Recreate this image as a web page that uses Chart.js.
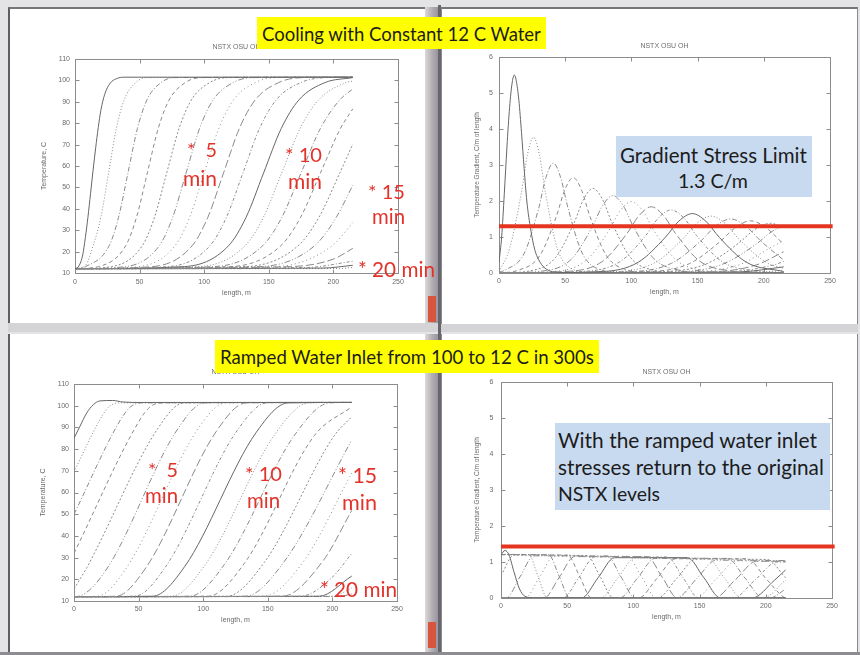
<!DOCTYPE html>
<html>
<head>
<meta charset="utf-8">
<script src="https://cdn.jsdelivr.net/npm/chart.js@4.4.1/dist/chart.umd.min.js"></script>
<style>
  html, body { margin: 0; padding: 0; }
  body { width: 860px; height: 655px; position: relative; overflow: hidden; background: #e4e3e6; font-family: Lato, "Open Sans", sans-serif; }
  .win { position: absolute; background: #fff; box-sizing: border-box; }
  .bar { position: absolute; }
  canvas { position: absolute; }
  .box { position: absolute; }
  .t { position: absolute; white-space: pre; line-height: 1; transform: translateY(-50%); }
  .yellow { background: #ffff00; }
  .blue { background: #c8daf0; }
  .dark { color: #1c1c1c; }
  .red { color: #e3322a; font-size: 19px; }
</style>
</head>
<body>
  <!-- application windows -->
  <div class="win" style="left:8px;top:7px;width:417px;height:316px;border-top:2px solid #75757a;border-left:2px solid #5e5e62;"></div>
  <div class="bar" style="left:425px;top:7px;width:13px;height:319px;background:linear-gradient(90deg,#dcd8db,#b2adb1 55%,#9893a0);"></div>
  <div class="bar" style="left:428px;top:296px;width:8px;height:26px;background:#d6553c;"></div>
  <div class="bar" style="left:438px;top:5px;width:3px;height:330px;background:#66666c;"></div>
  <div class="bar" style="left:8px;top:323px;width:430px;height:9px;background:#d4d3d6;"></div>

  <div class="win" style="left:441px;top:7px;width:417px;height:318px;border-top:2px solid #75757a;border-left:1px solid #8a8a8e;border-right:1px solid #8a8a8e;"></div>
  <div class="bar" style="left:441px;top:324px;width:417px;height:8px;background:#d4d3d6;"></div>

  <div class="win" style="left:8px;top:334px;width:417px;height:318px;border-left:2px solid #5e5e62;"></div>
  <div class="bar" style="left:425px;top:334px;width:13px;height:318px;background:linear-gradient(90deg,#dcd8db,#b2adb1 55%,#9893a0);"></div>
  <div class="bar" style="left:428px;top:622px;width:8px;height:26px;background:#d6553c;"></div>
  <div class="bar" style="left:438px;top:334px;width:3px;height:321px;background:#66666c;"></div>

  <div class="win" style="left:441px;top:334px;width:417px;height:318px;border-left:1px solid #8a8a8e;border-right:1px solid #8a8a8e;"></div>
  <div class="bar" style="left:0;top:652px;width:860px;height:3px;background:#8d8c90;"></div>

  <canvas id="chartTL" width="400" height="280" style="left:20px;top:30px"></canvas>
  <canvas id="chartTR" width="400" height="280" style="left:450px;top:30px"></canvas>
  <canvas id="chartBL" width="400" height="280" style="left:20px;top:355px"></canvas>
  <canvas id="chartBR" width="400" height="280" style="left:450px;top:355px"></canvas>

  <!-- headings -->
  <div class="box yellow" style="left:257px;top:17px;width:289px;height:32px"></div>
  <span class="t dark" data-w="279" style="left:262px;top:34px;font-size:18px">Cooling with Constant 12 C Water</span>
  <div class="box yellow" style="left:215px;top:340px;width:384px;height:33px"></div>
  <span class="t dark" data-w="374" style="left:220px;top:357px;font-size:18px">Ramped Water Inlet from 100 to 12 C in 300s</span>

  <!-- notes -->
  <div class="box blue" style="left:616px;top:136px;width:196px;height:61px"></div>
  <span class="t dark" data-w="187" style="left:620px;top:155px;font-size:19px">Gradient Stress Limit</span>
  <span class="t dark" data-w="70" style="left:678px;top:181px;font-size:19px">1.3 C/m</span>

  <div class="box blue" style="left:555px;top:423px;width:275px;height:87px"></div>
  <span class="t dark" data-w="259" style="left:558px;top:440px;font-size:19px">With the ramped water inlet</span>
  <span class="t dark" data-w="266" style="left:558px;top:467px;font-size:19px">stresses return to the original</span>
  <span class="t dark" data-w="102" style="left:558px;top:494px;font-size:19px">NSTX levels</span>

  <!-- elapsed-time markers, constant inlet -->
  <span class="t red" data-w="30" style="left:187px;top:150px">*  5</span>
  <span class="t red" data-w="34" style="left:183px;top:177px">min</span>
  <span class="t red" data-w="37" style="left:285px;top:154px">* 10</span>
  <span class="t red" data-w="34" style="left:288px;top:180px">min</span>
  <span class="t red" data-w="37" style="left:368px;top:191px">* 15</span>
  <span class="t red" data-w="33" style="left:372px;top:216px">min</span>
  <span class="t red" data-w="77" style="left:358px;top:269px">* 20 min</span>

  <!-- elapsed-time markers, ramped inlet -->
  <span class="t red" data-w="30" style="left:148px;top:470px">*  5</span>
  <span class="t red" data-w="33" style="left:145px;top:495px">min</span>
  <span class="t red" data-w="37" style="left:245px;top:473px">* 10</span>
  <span class="t red" data-w="33" style="left:247px;top:500px">min</span>
  <span class="t red" data-w="39" style="left:338px;top:476px">* 15</span>
  <span class="t red" data-w="35" style="left:342px;top:503px">min</span>
  <span class="t red" data-w="77" style="left:320px;top:589px">* 20 min</span>

<script>
// ---- axis ticks ----
const lengthTicks = [0, 50, 100, 150, 200, 250];
const tempTicks = [10, 20, 30, 40, 50, 60, 70, 80, 90, 100, 110];
const gradTicks = [0, 1, 2, 3, 4, 5, 6];

// ---- stress limit (C/m) ----
const stressLimit = 1.3;
const stressLimitRamped = 1.43;
const limitSpan = [0, 252];

// ---- temperature vs length, constant 12 C inlet, one profile per minute [length m, T C] ----
const tempConst01 = [[0,12],[3,13.3],[6,18.5],[8,26.5],[10,36],[12,47],[14,58],[16,68.5],[18,78],[20,86],[23,93.5],[27,98.5],[32,100.8],[38,101.5],[215,101.5]];
const tempConst02 = [[0,12],[8,13.5],[14,22.7],[20,36],[26,56.8],[32,77.5],[38,90.8],[47,99],[56,101.3],[215,101.5]];
const tempConst03 = [[0,12],[8.2,13],[26.4,22.7],[33.7,36],[41,56.8],[48.3,77.5],[55.6,90.8],[66.6,99],[77.5,101.3],[215,101.5]];
const tempConst04 = [[0,12],[18.2,13],[39.2,22.7],[47.6,36],[56,56.8],[64.4,77.5],[72.8,90.8],[85.4,99],[98,101.3],[215,101.5]];
const tempConst05 = [[0,12],[28.3,13],[52,22.7],[61.5,36],[71,56.8],[80.5,77.5],[90,90.8],[104.3,99],[118.5,101.3],[215,101.5]];
const tempConst06 = [[0,12],[39.2,13],[65.2,22.7],[75.6,36],[86,56.8],[96.4,77.5],[106.8,90.8],[122.4,99],[138,101.3],[215,101.5]];
const tempConst07 = [[0,12],[49.2,13],[77.4,22.7],[88.7,36],[100,56.8],[111.3,77.5],[122.6,90.8],[139.6,99],[156.5,101.3],[215,101.5]];
const tempConst08 = [[0,12],[60.1,13],[90.6,22.7],[102.8,36],[115,56.8],[127.2,77.5],[139.4,90.8],[157.7,99],[176,101.3],[215,101.5]];
const tempConst09 = [[0,12],[72.4,13],[104.4,22.7],[117.2,36],[130,56.8],[142.8,77.5],[155.6,90.8],[174.8,99],[194,101.3],[215,101.5]];
const tempConst10 = [[0,12],[84.8,13],[118.8,22.7],[132.4,36],[146,56.8],[159.6,77.5],[173.2,90.8],[193.6,99],[215,101.3]];
const tempConst11 = [[0,12],[96.1,13],[131.6,22.7],[145.8,36],[160,56.8],[174.2,77.5],[188.4,90.8],[209.7,99],[215,99.7]];
const tempConst12 = [[0,12],[107.9,13],[145.2,22.7],[160.1,36],[175,56.8],[189.9,77.5],[204.8,90.8],[215,96]];
const tempConst13 = [[0,12],[120.7,13],[159.2,22.7],[174.6,36],[190,56.8],[205.4,77.5],[215,86.7]];
const tempConst14 = [[0,12],[132.1,13],[172.6,22.7],[188.8,36],[205,56.8],[215,70.2]];
const tempConst15 = [[0,12],[143.4,13],[185.4,22.7],[202.2,36],[215,51]];
const tempConst16 = [[0,12],[155.3,13],[199,22.7],[215,33.5]];
const tempConst17 = [[0,12],[167,13],[200,16.5],[215,21.5]];
const tempConst18 = [[0,12],[180,12.6],[215,15.5]];
const tempConst19 = [[0,12],[192,12.3],[215,13.6]];
const tempConst20 = [[0,12],[205,12.1],[215,12.6]];

// ---- temperature gradient vs length, constant inlet [length m, C/m] ----
const gradConst01 = [[0,0.3],[2,1.0],[4,2.2],[6,3.5],[8,4.6],[10,5.3],[11.6,5.5],[13,5.35],[15,4.8],[17,3.9],[19,2.9],[21,2.0],[24,1.2],[27,0.65],[31,0.3],[36,0.1],[45,0.02],[60,0],[215,0]];
const gradConst02 = [[0,0.03],[8,0.68],[17,2.25],[21.5,3.29],[26,3.77],[30.5,3.29],[35,2.25],[44,0.68],[56,0.1],[70,0],[215,0]];
const gradConst03 = [[0,0.02],[4.5,0.08],[19.1,0.55],[30.1,1.82],[35.5,2.66],[41,3.05],[46.5,2.66],[52,1.82],[62.9,0.55],[77.5,0.08],[95,0],[215,0]];
const gradConst04 = [[0,0],[14,0.07],[30.8,0.48],[43.4,1.58],[49.7,2.31],[56,2.65],[62.3,2.31],[68.6,1.58],[81.2,0.48],[98,0.07],[115,0],[215,0]];
const gradConst05 = [[0,0],[23.5,0.06],[42.5,0.42],[56.8,1.4],[63.9,2.05],[71,2.35],[78.1,2.05],[85.3,1.4],[99.5,0.42],[118.5,0.06],[135,0],[215,0]];
const gradConst06 = [[0,0],[34,0.06],[54.8,0.39],[70.4,1.28],[78.2,1.87],[86,2.15],[93.8,1.87],[101.6,1.28],[117.2,0.39],[138,0.06],[155,0],[215,0]];
const gradConst07 = [[0,0],[43.5,0.05],[66.1,0.36],[83,1.18],[91.5,1.73],[100,1.98],[108.5,1.73],[117,1.18],[133.9,0.36],[156.5,0.05],[175,0],[215,0]];
const gradConst08 = [[0,0],[54,0.05],[78.4,0.33],[96.7,1.1],[105.9,1.6],[115,1.84],[124.2,1.6],[133.3,1.1],[151.6,0.33],[176,0.05],[195,0],[215,0]];
const gradConst09 = [[0,0],[66,0.05],[91.6,0.32],[110.8,1.04],[120.4,1.53],[130,1.75],[139.6,1.53],[149.2,1.04],[168.4,0.32],[194,0.05],[215,0.01]];
const gradConst10 = [[0,0],[78,0.04],[105.2,0.3],[125.6,0.99],[135.8,1.44],[146,1.65],[156.2,1.44],[166.4,0.99],[186.8,0.3],[215,0.04]];
const gradConst11 = [[0,0],[89,0.04],[117.4,0.28],[138.7,0.94],[149.4,1.38],[160,1.58],[170.7,1.38],[181.3,0.94],[202.6,0.28],[215,0.13]];
const gradConst12 = [[0,0],[100.5,0.04],[130.3,0.27],[152.7,0.9],[163.8,1.31],[175,1.5],[186.2,1.31],[197.4,0.9],[215,0.36]];
const gradConst13 = [[0,0],[113,0.04],[143.8,0.26],[166.9,0.87],[178.5,1.26],[190,1.45],[201.6,1.26],[215,0.8]];
const gradConst14 = [[0,0],[124,0.04],[156.4,0.25],[180.7,0.82],[192.9,1.2],[205,1.38],[215,1.26]];
const gradConst15 = [[0,0],[135,0.035],[168.6,0.24],[193.8,0.79],[206.4,1.16],[215,1.31]];
const gradConst16 = [[0,0],[146.5,0.034],[181.5,0.23],[207.8,0.76],[215,0.9]];
const gradConst17 = [[0,0],[158,0.03],[194,0.22],[215,0.59]];
const gradConst18 = [[0,0],[170,0.03],[207.2,0.22],[215,0.32]];
const gradConst19 = [[0,0],[181.5,0.03],[215,0.17]];
const gradConst20 = [[0,0],[192,0.02],[215,0.07]];

// ---- temperature vs length, inlet ramped 100 -> 12 C over 300 s ----
const tempRamp01 = [[0,85],[4.6,90.5],[9.8,96.6],[15,100.5],[20,102.2],[30,102.4],[38,101.7],[50,101.5],[215,101.5]];
const tempRamp02 = [[0,69.5],[20,93.5],[27,99.5],[35,101.3],[215,101.5]];
const tempRamp03 = [[0,50],[36,93.5],[44,99.6],[52,101.3],[215,101.5]];
const tempRamp04 = [[0,32],[51,93.5],[59,99.5],[68,101.3],[215,101.5]];
const tempRamp05 = [[0,15.5],[10,25.5],[65,89.6],[85,101.3],[215,101.5]];
const tempRamp06 = [[0,12],[3.8,12.2],[24.8,24.3],[80.2,89.2],[101.2,101.3],[215,101.5]];
const tempRamp07 = [[0,12],[18.1,12.2],[40.1,24.8],[95.3,88.7],[117.3,101.3],[215,101.5]];
const tempRamp08 = [[0,12],[32.5,12.2],[55.5,25.2],[110.3,88.3],[133.3,101.3],[215,101.5]];
const tempRamp09 = [[0,12],[46.8,12.2],[70.8,25.7],[125.4,87.8],[149.4,101.3],[215,101.5]];
const tempRamp10 = [[0,12],[60.8,12.2],[85.8,26],[140.8,87.5],[165.8,101.3],[215,101.5]];
const tempRamp11 = [[0,12],[75.2,12.2],[101.2,26.4],[155.8,87.1],[181.8,101.3],[215,101.5]];
const tempRamp12 = [[0,12],[89.5,12.2],[116.5,26.9],[170.9,86.6],[197.9,101.3],[215,101.5]];
const tempRamp13 = [[0,12],[103.8,12.2],[131.8,27.3],[186,86.2],[215,99.5]];
const tempRamp14 = [[0,12],[118.2,12.2],[147.2,27.7],[201,85.8],[215,95]];
const tempRamp15 = [[0,12],[132.5,12.2],[162.5,28],[215,84.2]];
const tempRamp16 = [[0,12],[146.8,12.2],[177.8,28.4],[215,69]];
const tempRamp17 = [[0,12],[161.1,12.2],[193.1,28.8],[215,51.8]];
const tempRamp18 = [[0,12],[175.4,12.2],[200,21],[215,32]];
const tempRamp19 = [[0,12],[189.7,12.2],[215,21.5]];
const tempRamp20 = [[0,12],[200,12.2],[215,16]];
const tempRamp21 = [[0,12],[205,12.1],[215,13.3]];

// ---- temperature gradient vs length, ramped inlet ----
const gradRamp01 = [[0,1.2],[3,1.32],[6,1.2],[10,0.7],[14,0.25],[18,0.05],[25,0],[215,0]];
const gradRamp02 = [[0,1.21],[21,1.2],[28,0.6],[35,0],[215,0]];
const gradRamp03 = [[0,1.21],[36,1.2],[44,0.6],[52,0],[215,0]];
const gradRamp04 = [[0,1.2],[50.4,1.19],[59.4,0.6],[68.4,0],[215,0]];
const gradRamp05 = [[0,0.62],[9.7,1.19],[64.9,1.18],[74.9,0.59],[84.9,0],[215,0]];
const gradRamp06 = [[0,0],[3.8,0],[14.3,0.585],[24.8,1.17],[80.2,1.17],[90.7,0.585],[101.2,0],[215,0]];
const gradRamp07 = [[0,0],[18.1,0],[29.1,0.58],[40.1,1.16],[95.3,1.16],[106.3,0.58],[117.3,0],[215,0]];
const gradRamp08 = [[0,0],[32.5,0],[44,0.575],[55.5,1.15],[110.3,1.15],[121.8,0.575],[133.3,0],[215,0]];
const gradRamp09 = [[0,0],[46.8,0],[58.8,0.57],[70.8,1.14],[125.4,1.14],[137.4,0.57],[149.4,0],[215,0]];
const gradRamp10 = [[0,0],[60.8,0],[73.3,0.56],[85.8,1.12],[140.8,1.12],[153.3,0.56],[165.8,0],[215,0]];
const gradRamp11 = [[0,0],[75.2,0],[88.2,0.555],[101.2,1.11],[155.8,1.11],[168.8,0.555],[181.8,0],[215,0]];
const gradRamp12 = [[0,0],[89.5,0],[103,0.55],[116.5,1.1],[170.9,1.1],[184.4,0.55],[197.9,0],[215,0]];
const gradRamp13 = [[0,0],[103.8,0],[117.8,0.545],[131.8,1.09],[186,1.09],[200,0.545],[214,0.01],[215,0]];
const gradRamp14 = [[0,0],[118.2,0],[132.7,0.54],[147.2,1.08],[201,1.07],[215,0.56]];
const gradRamp15 = [[0,0],[132.5,0],[147.5,0.525],[162.5,1.05],[215,1.04]];
const gradRamp16 = [[0,0],[146.8,0],[162.3,0.515],[177.8,1.03],[215,1.03]];
const gradRamp17 = [[0,0],[161.1,0],[177.1,0.51],[193.1,1.02],[215,1.02]];
const gradRamp18 = [[0,0],[175.4,0],[191.9,0.5],[208.4,1.0],[215,1.0]];
const gradRamp19 = [[0,0],[189.7,0],[206.7,0.5],[215,0.78]];
const gradRamp20 = [[0,0],[198,0],[215,0.5]];
const gradRamp21 = [[0,0],[203,0],[215,0.25]];

const plotTitle = 'NSTX OSU OH';

// ---- curve groups built from the named profiles ----
const tempConstCurves = [tempConst01,tempConst02,tempConst03,tempConst04,tempConst05,tempConst06,tempConst07,tempConst08,tempConst09,tempConst10,
  tempConst11,tempConst12,tempConst13,tempConst14,tempConst15,tempConst16,tempConst17,tempConst18,tempConst19,tempConst20];
const gradConstCurves = [gradConst01,gradConst02,gradConst03,gradConst04,gradConst05,gradConst06,gradConst07,gradConst08,gradConst09,gradConst10,
  gradConst11,gradConst12,gradConst13,gradConst14,gradConst15,gradConst16,gradConst17,gradConst18,gradConst19,gradConst20];
const tempRampCurves = [tempRamp01,tempRamp02,tempRamp03,tempRamp04,tempRamp05,tempRamp06,tempRamp07,tempRamp08,tempRamp09,tempRamp10,
  tempRamp11,tempRamp12,tempRamp13,tempRamp14,tempRamp15,tempRamp16,tempRamp17,tempRamp18,tempRamp19,tempRamp20,tempRamp21];
const gradRampCurves = [gradRamp01,gradRamp02,gradRamp03,gradRamp04,gradRamp05,gradRamp06,gradRamp07,gradRamp08,gradRamp09,gradRamp10,
  gradRamp11,gradRamp12,gradRamp13,gradRamp14,gradRamp15,gradRamp16,gradRamp17,gradRamp18,gradRamp19,gradRamp20,gradRamp21];

// gnuplot-style line types, cycling every nine curves
const dashCycle = [[], [1,2], [5,2,1,2], [4,3], [2,2], [6,2,1,2,1,2], [1,3], [8,3], [3,2,1,2]];

function curveSets(curves) {
  return curves.map((pts, i) => {
    const dash = dashCycle[i % dashCycle.length];
    return {
      data: pts,
      borderColor: dash.length ? '#8a8a8a' : '#666666',
      borderWidth: 1,
      borderDash: dash,
      pointRadius: 0,
      fill: false,
      cubicInterpolationMode: 'monotone'
    };
  });
}

// boxed frame with inward tick marks on all four sides, plus the small plot title
const plotFrame = {
  id: 'plotFrame',
  beforeDatasetsDraw(chart, args, opts) {
    const { ctx, chartArea: a } = chart;
    const x = chart.scales.x, y = chart.scales.y;
    const L = Math.round(a.left) + 0.5, R = Math.round(a.right) + 0.5;
    const T = Math.round(a.top) + 0.5, B = Math.round(a.bottom) + 0.5;
    ctx.save();
    ctx.strokeStyle = '#8c8c8c';
    ctx.lineWidth = 1;
    ctx.strokeRect(L, T, R - L, B - T);
    ctx.beginPath();
    x.ticks.forEach(t => {
      const px = Math.round(x.getPixelForValue(t.value)) + 0.5;
      ctx.moveTo(px, B); ctx.lineTo(px, B - 4);
      ctx.moveTo(px, T); ctx.lineTo(px, T + 4);
    });
    y.ticks.forEach(t => {
      const py = Math.round(y.getPixelForValue(t.value)) + 0.5;
      ctx.moveTo(L, py); ctx.lineTo(L + 4, py);
      ctx.moveTo(R, py); ctx.lineTo(R - 4, py);
    });
    ctx.stroke();
    ctx.font = '7px "Liberation Sans", Arial, sans-serif';
    ctx.fillStyle = '#6e6e6e';
    ctx.textAlign = 'center';
    ctx.textBaseline = 'middle';
    ctx.fillText(opts.title, (a.left + a.right) / 2, a.top - opts.gap);
    ctx.restore();
  }
};

const smallFont = { family: '"Liberation Sans", Arial, sans-serif', size: 7 };

function build(id, cfg) {
  const canvas = document.getElementById(id);
  const W = canvas.width, H = canvas.height;
  const a = cfg.area;
  const datasets = curveSets(cfg.curves);
  if (cfg.limit !== undefined) {
    datasets.push({
      data: limitSpan.map(v => [v, cfg.limit]),
      borderColor: '#e5341f',
      borderWidth: 4,
      pointRadius: 0,
      fill: false,
      order: -1,
      clip: { left: 0, right: 6, top: 0, bottom: 0 }
    });
  }
  return new Chart(canvas, {
    type: 'line',
    data: { datasets },
    plugins: [plotFrame],
    options: {
      responsive: false,
      animation: false,
      devicePixelRatio: 1,
      events: [],
      layout: { padding: { left: 0, top: a.top, right: W - a.right, bottom: 0 } },
      plugins: {
        legend: { display: false },
        tooltip: { enabled: false },
        plotFrame: { title: plotTitle, gap: cfg.titleGap }
      },
      scales: {
        x: {
          type: 'linear',
          min: lengthTicks[0], max: lengthTicks[lengthTicks.length - 1],
          afterBuildTicks: s => { s.ticks = lengthTicks.map(v => ({ value: v })); },
          afterFit: s => { s.height = H - a.bottom; },
          grid: { display: false, drawTicks: false },
          border: { display: false },
          ticks: { font: smallFont, color: '#6a6a6a', padding: cfg.xTickPad, maxRotation: 0 },
          title: { display: true, text: 'length, m', font: smallFont, color: '#6a6a6a', padding: { top: 0, bottom: cfg.xTitlePad } }
        },
        y: {
          type: 'linear',
          min: cfg.yTicks[0], max: cfg.yTicks[cfg.yTicks.length - 1],
          afterBuildTicks: s => { s.ticks = cfg.yTicks.map(v => ({ value: v })); },
          afterFit: s => { s.width = a.left; },
          grid: { display: false, drawTicks: false },
          border: { display: false },
          ticks: { font: smallFont, color: '#6a6a6a', padding: cfg.yTickPad },
          title: { display: true, text: cfg.yTitle, font: { family: smallFont.family, size: cfg.yTitleSize || 7 }, color: '#6a6a6a', padding: { top: cfg.yTitlePad, bottom: 0 } }
        }
      }
    }
  });
}

build('chartTL', {
  curves: tempConstCurves, yTicks: tempTicks, yTitle: 'Temperature, C',
  area: { left: 55, top: 29, right: 378, bottom: 243 },
  titleGap: 11.7, xTickPad: 4.5, xTitlePad: 13, yTickPad: 5, yTitlePad: 19.8
});
build('chartTR', {
  curves: gradConstCurves, yTicks: gradTicks, yTitle: 'Temperature Gradient, C/m of length', yTitleSize: 6.5,
  area: { left: 49, top: 27, right: 380, bottom: 243 }, limit: stressLimit,
  titleGap: 10.6, xTickPad: 3.5, xTitlePad: 13.8, yTickPad: 6, yTitlePad: 23.8
});
build('chartBL', {
  curves: tempRampCurves, yTicks: tempTicks, yTitle: 'Temperature, C',
  area: { left: 54, top: 29, right: 377, bottom: 246 },
  titleGap: 11.6, xTickPad: 4.1, xTitlePad: 10.8, yTickPad: 5, yTitlePad: 18.8
});
build('chartBR', {
  curves: gradRampCurves, yTicks: gradTicks, yTitle: 'Temperature Gradient, C/m of length', yTitleSize: 6.5,
  area: { left: 51, top: 27, right: 382, bottom: 243 }, limit: stressLimitRamped,
  titleGap: 10.3, xTickPad: 3.8, xTitlePad: 14.1, yTickPad: 7.7, yTitlePad: 23.8
});

// size each slide caption so it spans its intended width
document.querySelectorAll('[data-w]').forEach(el => {
  const fs = parseFloat(getComputedStyle(el).fontSize);
  const w = el.getBoundingClientRect().width;
  el.style.fontSize = (fs * (+el.dataset.w) / w).toFixed(2) + 'px';
});
</script>
</body>
</html>
